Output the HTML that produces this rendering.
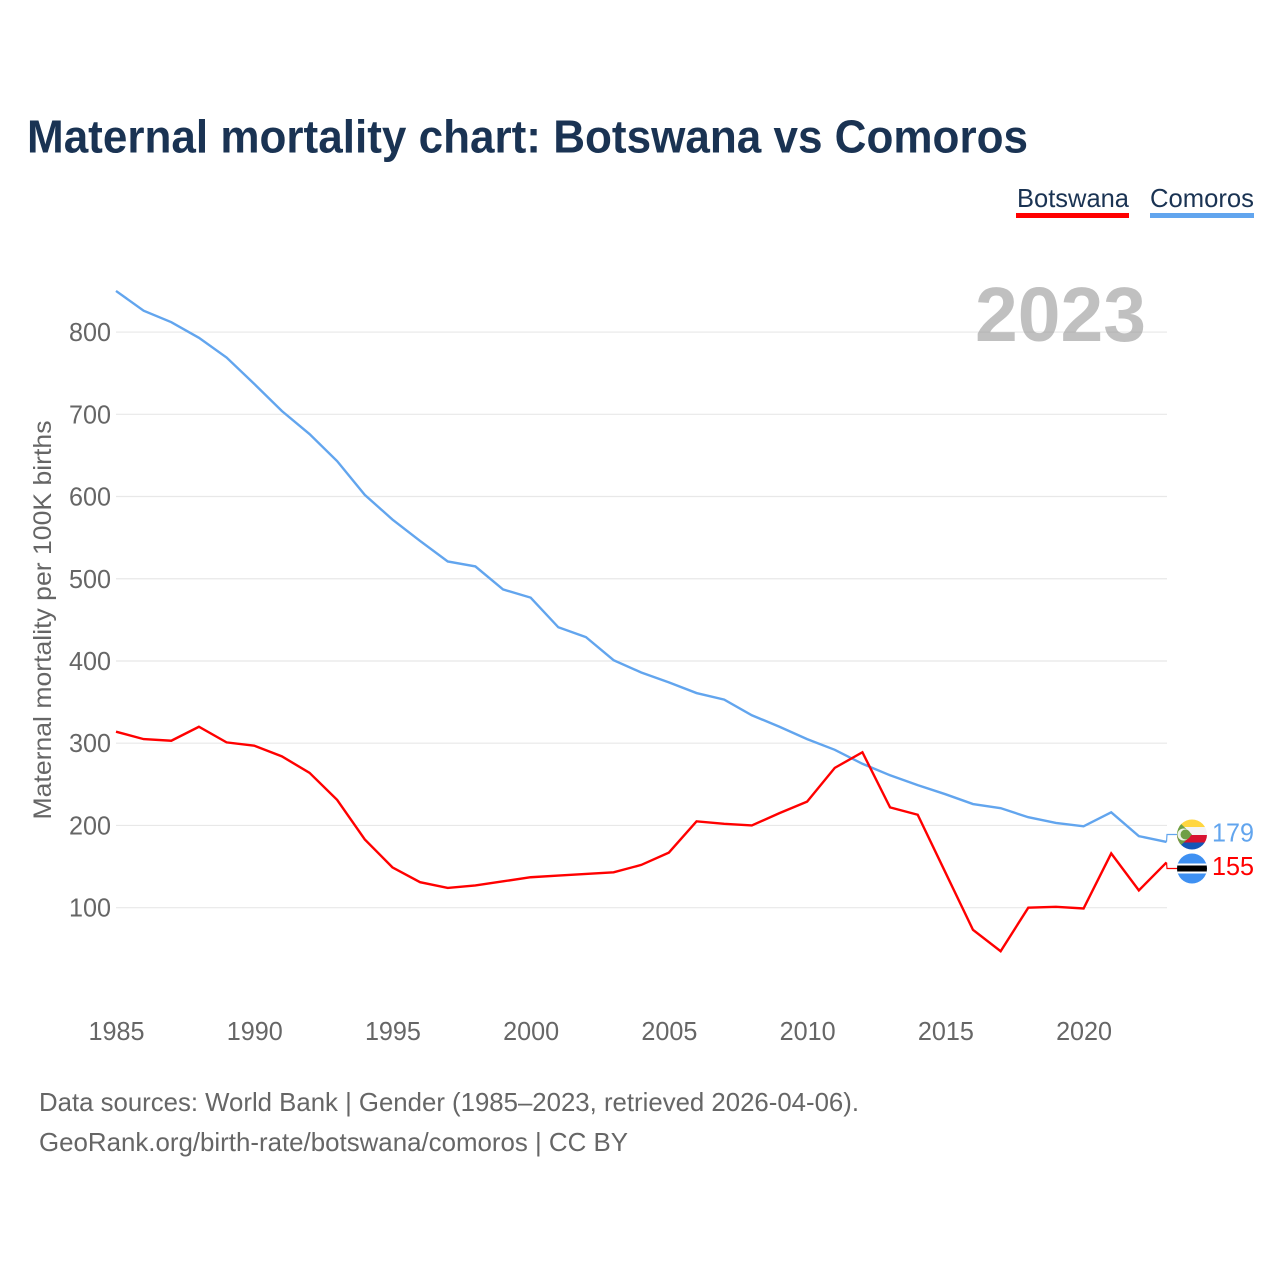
<!DOCTYPE html>
<html lang="en">
<head>
<meta charset="utf-8">
<title>Maternal mortality chart: Botswana vs Comoros</title>
<style>
html,body{margin:0;padding:0;background:#fff;width:1280px;height:1280px;overflow:hidden}
svg{display:block}
text{font-family:"Liberation Sans",sans-serif}
</style>
</head>
<body>
<svg id="chart" xmlns="http://www.w3.org/2000/svg" width="1280" height="1280" viewBox="0 0 1280 1280">
  <defs>
    <clipPath id="clip-km"><circle cx="1192" cy="834.5" r="15"/></clipPath>
    <clipPath id="clip-bw"><circle cx="1192" cy="868.5" r="15"/></clipPath>
  </defs>
  <rect x="0" y="0" width="1280" height="1280" fill="#fff"/>
  <text x="27" y="152.5" font-size="46" font-weight="700" fill="#1a3353" textLength="1001" lengthAdjust="spacingAndGlyphs">Maternal mortality chart: Botswana vs Comoros</text>

  <g>
    <g>
      <text x="1017" y="207" font-size="26" fill="#1a3353" textLength="112" lengthAdjust="spacingAndGlyphs">Botswana</text>
      <rect x="1016" y="213" width="113" height="5" fill="#ff0000"/>
    </g>
    <g>
      <text x="1150" y="207" font-size="26" fill="#1a3353" textLength="104" lengthAdjust="spacingAndGlyphs">Comoros</text>
      <rect x="1150" y="213" width="104" height="5" fill="#62a5ee"/>
    </g>
  </g>

  <g id="grid"></g>
  <text x="1146" y="341" text-anchor="end" font-size="77" font-weight="700" fill="#9a9a9a" fill-opacity="0.62" textLength="171" lengthAdjust="spacingAndGlyphs">2023</text>
  <g id="yticks"></g>
  <g id="xticks"></g>
  <text transform="translate(51,620) rotate(-90)" text-anchor="middle" font-size="25" fill="#666" textLength="399" lengthAdjust="spacingAndGlyphs">Maternal mortality per 100K births</text>

  <path id="line-comoros" fill="none" stroke="#62a5ee" stroke-width="2.4" stroke-linejoin="miter"/>
  <path id="line-botswana" fill="none" stroke="#ff0000" stroke-width="2.4" stroke-linejoin="miter"/>
  <path id="conn-comoros" fill="none" stroke="#62a5ee" stroke-width="1.2"/>
  <path id="conn-botswana" fill="none" stroke="#ff0000" stroke-width="1.2"/>

  <g clip-path="url(#clip-km)">
    <rect x="1176" y="819" width="32" height="8" fill="#ffd63f"/>
    <rect x="1176" y="827" width="32" height="8" fill="#f4f4f4"/>
    <rect x="1176" y="835" width="32" height="7.5" fill="#d8122f"/>
    <rect x="1176" y="842.5" width="32" height="8" fill="#1456b8"/>
    <polygon points="1176,819 1192,834.5 1176,850" fill="#6f9f45"/>
    <circle cx="1183.5" cy="834.5" r="6" fill="#eef3e6"/>
    <circle cx="1185.5" cy="834.5" r="5" fill="#6f9f45"/>
  </g>
  <g clip-path="url(#clip-bw)">
    <rect x="1176" y="853" width="32" height="31" fill="#3e90f2"/>
    <rect x="1176" y="863.5" width="32" height="10" fill="#fff"/>
    <rect x="1176" y="865.5" width="32" height="6" fill="#000"/>
  </g>
  <text id="value-comoros" x="1212" y="841.5" font-size="26" fill="#62a5ee" textLength="42" lengthAdjust="spacingAndGlyphs">179</text>
  <text id="value-botswana" x="1212" y="875" font-size="26" fill="#ff0000" textLength="42" lengthAdjust="spacingAndGlyphs">155</text>

  <text x="39" y="1111" font-size="26" fill="#666" textLength="820" lengthAdjust="spacingAndGlyphs">Data sources: World Bank | Gender (1985–2023, retrieved 2026-04-06).</text>
  <text x="39" y="1151" font-size="26" fill="#666" textLength="589" lengthAdjust="spacingAndGlyphs">GeoRank.org/birth-rate/botswana/comoros | CC BY</text>
</svg>
<script>
const years = [1985,1986,1987,1988,1989,1990,1991,1992,1993,1994,1995,1996,1997,1998,1999,2000,2001,2002,2003,2004,2005,2006,2007,2008,2009,2010,2011,2012,2013,2014,2015,2016,2017,2018,2019,2020,2021,2022,2023];
const comoros = [850,826,812,793,769,737,704,676,643,602,572,546,521,515,487,477,441,429,401,386,374,361,353,334,320,305,292,275,261,249,238,226,221,210,203,199,216,187,180];
const botswana = [314,305,303,320,301,297,284,264,231,183,149,131,124,127,132,137,139,141,143,152,167,205,202,200,215,229,270,289,222,213,143,73,47,100,101,99,166,121,155];
const yTickValues = [100,200,300,400,500,600,700,800];
const xTickValues = [1985,1990,1995,2000,2005,2010,2015,2020];

const NS = 'http://www.w3.org/2000/svg';
function xScale(year) { return 116 + (year - 1985) * (1166.5 - 116) / 38; }
function yScale(value) { return 989.9 - value * 0.8223; }
function linePath(series) {
  return series.map(function (v, i) {
    return (i ? 'L' : 'M') + xScale(years[i]).toFixed(2) + ' ' + yScale(v).toFixed(2);
  }).join('');
}
function connectorPath(series, labelY) {
  const last = series.length - 1;
  const ex = xScale(years[last]);
  return 'M' + ex.toFixed(2) + ' ' + yScale(series[last]).toFixed(2) + 'L' + (ex + 0.5).toFixed(2) + ' ' + labelY + 'L1177 ' + labelY;
}

const grid = document.getElementById('grid');
const yticks = document.getElementById('yticks');
yTickValues.forEach(function (v) {
  const gl = document.createElementNS(NS, 'line');
  gl.setAttribute('x1', 116);
  gl.setAttribute('x2', 1167);
  gl.setAttribute('y1', yScale(v));
  gl.setAttribute('y2', yScale(v));
  gl.setAttribute('stroke', '#e8e8e8');
  gl.setAttribute('stroke-width', '1.2');
  
  
  grid.appendChild(gl);

  const t = document.createElementNS(NS, 'text');
  t.setAttribute('x', 111);
  t.setAttribute('y', yScale(v) + 9);
  t.setAttribute('text-anchor', 'end');
  t.setAttribute('font-size', '26');
  t.setAttribute('fill', '#666');
  t.setAttribute('textLength', '42');
  t.setAttribute('lengthAdjust', 'spacingAndGlyphs');
  
  
  t.textContent = v;
  yticks.appendChild(t);
});

const xticks = document.getElementById('xticks');
xTickValues.forEach(function (y) {
  const t = document.createElementNS(NS, 'text');
  t.setAttribute('x', xScale(y) + 0.5);
  t.setAttribute('y', 1040);
  t.setAttribute('text-anchor', 'middle');
  t.setAttribute('font-size', '26');
  t.setAttribute('fill', '#666');
  t.setAttribute('textLength', '56');
  t.setAttribute('lengthAdjust', 'spacingAndGlyphs');
  
  
  t.textContent = y;
  xticks.appendChild(t);
});

document.getElementById('line-comoros').setAttribute('d', linePath(comoros));
document.getElementById('line-botswana').setAttribute('d', linePath(botswana));
document.getElementById('conn-comoros').setAttribute('d', connectorPath(comoros, 834.5));
document.getElementById('conn-botswana').setAttribute('d', connectorPath(botswana, 868.5));
</script>
</body>
</html>
